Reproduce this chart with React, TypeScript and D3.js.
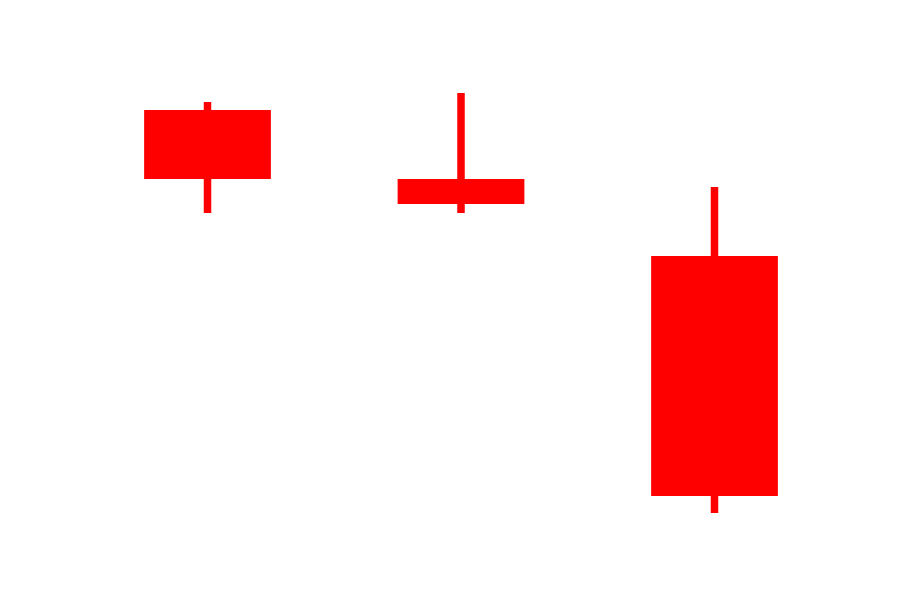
import React from "react";
import * as d3 from "d3";

const categories = ["A", "B", "C"];
const openValues = [98, 84.2, 68.8];
const closeValues = [84.2, 79.2, 20.8];
const highValues = [99.6, 101.4, 82.6];
const lowValues = [77.4, 77.4, 17.4];

const W = 900;
const H = 600;

export default function App() {
  const x = d3
    .scaleBand<string>()
    .domain(categories)
    .range([80.75, 841.25])
    .paddingInner(0.5)
    .paddingOuter(0.25);
  const y = d3.scaleLinear().domain([0, 120]).range([H, 0]);
  const wickW = 7.5;
  return (
    <svg
      width={W}
      height={H}
      style={{ position: "absolute", left: 0, top: 0, background: "#fff" }}
    >
      {categories.map((c, i) => {
        const x0 = x(c) as number;
        const bw = x.bandwidth();
        const cx = x0 + bw / 2;
        const o = openValues[i];
        const cl = closeValues[i];
        const top = y(Math.max(o, cl));
        const bot = y(Math.min(o, cl));
        return (
          <g key={c}>
            <rect
              x={cx - wickW / 2}
              y={y(highValues[i])}
              width={wickW}
              height={y(lowValues[i]) - y(highValues[i])}
              fill="#ff0000"
            />
            <rect x={x0} y={top} width={bw} height={bot - top} fill="#ff0000" />
          </g>
        );
      })}
    </svg>
  );
}
